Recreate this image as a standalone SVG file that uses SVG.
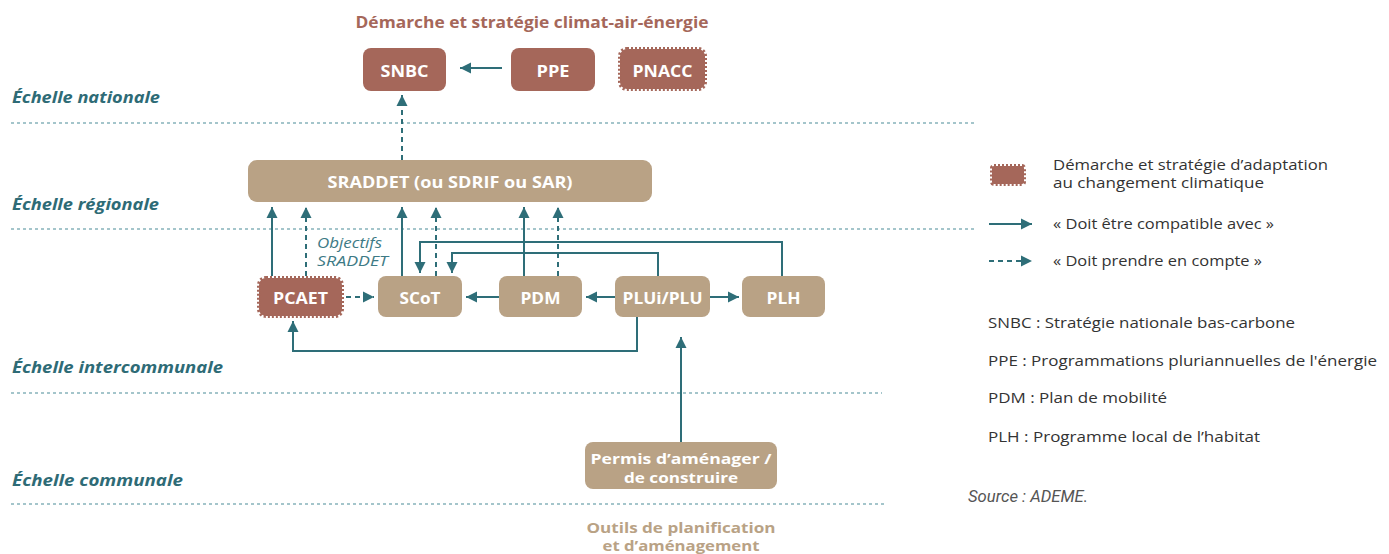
<svg xmlns="http://www.w3.org/2000/svg" width="1389" height="554" viewBox="0 0 1389 554">
<defs>
<style>
.bg{fill:#ffffff}
.scale{font-family:"Open Sans","Liberation Sans",sans-serif;font-weight:700;font-style:italic;font-size:15.5px;fill:#2e6b76}
.sep{stroke:#86b3ba;stroke-width:1.6;stroke-dasharray:3 3;fill:none}
.tan{fill:#b9a285}
.brn{fill:#a5675a}
.stamp{fill:#a5675a;stroke:#a5675a;stroke-width:4;stroke-dasharray:2 2}
.lbl{font-family:"Open Sans","Liberation Sans",sans-serif;font-weight:700;font-size:16.5px;fill:#ffffff;text-anchor:middle}
.c{stroke:#2e6e78;stroke-width:2;fill:none}
.d{stroke:#2e6e78;stroke-width:2;fill:none;stroke-dasharray:5 4}
.leg{font-family:"Open Sans","Liberation Sans",sans-serif;font-size:15px;fill:#333333}
</style>
<marker id="ah" viewBox="0 0 10 10" refX="10" refY="5" markerWidth="11" markerHeight="12" orient="auto" markerUnits="userSpaceOnUse">
<path d="M0,0 L10,5 L0,10 z" fill="#2e6e78"/>
</marker>
</defs>
<rect class="bg" x="0" y="0" width="1389" height="554"/>

<text x="532" y="28" text-anchor="middle" font-family="Open Sans, Liberation Sans, sans-serif" font-weight="700" font-size="16.5" fill="#a5675a" textLength="353" lengthAdjust="spacingAndGlyphs">Démarche et stratégie climat-air-énergie</text>

<g id="scales">
<text class="scale" x="12" y="103" textLength="148" lengthAdjust="spacingAndGlyphs">Échelle nationale</text>
<text class="scale" x="12" y="210" textLength="147" lengthAdjust="spacingAndGlyphs">Échelle régionale</text>
<text class="scale" x="12" y="373" textLength="211" lengthAdjust="spacingAndGlyphs">Échelle intercommunale</text>
<text class="scale" x="12" y="486" textLength="171" lengthAdjust="spacingAndGlyphs">Échelle communale</text>
<line class="sep" x1="11" y1="123" x2="975" y2="123"/>
<line class="sep" x1="11" y1="229" x2="975" y2="229"/>
<line class="sep" x1="11" y1="393" x2="882" y2="393"/>
<line class="sep" x1="11" y1="504" x2="884" y2="504"/>
</g>

<g id="connectors">
<line class="c" x1="502" y1="68" x2="460" y2="68" marker-end="url(#ah)"/>
<line class="d" x1="402" y1="160" x2="402" y2="95" marker-end="url(#ah)"/>
<line class="c" x1="272" y1="276" x2="272" y2="207" marker-end="url(#ah)"/>
<line class="d" x1="306" y1="276" x2="306" y2="207" marker-end="url(#ah)"/>
<line class="c" x1="402" y1="276" x2="402" y2="207" marker-end="url(#ah)"/>
<line class="d" x1="436" y1="276" x2="436" y2="207" marker-end="url(#ah)"/>
<line class="c" x1="524" y1="276" x2="524" y2="207" marker-end="url(#ah)"/>
<line class="d" x1="558" y1="276" x2="558" y2="207" marker-end="url(#ah)"/>
<line class="d" x1="346" y1="297" x2="374" y2="297" marker-end="url(#ah)"/>
<line class="c" x1="499" y1="297" x2="466" y2="297" marker-end="url(#ah)"/>
<line class="c" x1="615" y1="297" x2="586" y2="297" marker-end="url(#ah)"/>
<line class="c" x1="710" y1="297" x2="739" y2="297" marker-end="url(#ah)"/>
<path class="c" d="M782,276 V242 H420 V273" marker-end="url(#ah)"/>
<path class="c" d="M658,276 V253 H452 V273" marker-end="url(#ah)"/>
<path class="c" d="M637,317 V351 H293 V321" marker-end="url(#ah)"/>
<line class="c" x1="681" y1="442" x2="681" y2="337" marker-end="url(#ah)"/>
</g>

<g id="objectifs">
<text x="317" y="248" font-family="Open Sans, Liberation Sans, sans-serif" font-style="italic" font-size="15" fill="#3d7a85" textLength="65" lengthAdjust="spacingAndGlyphs">Objectifs</text>
<text x="317" y="266" font-family="Open Sans, Liberation Sans, sans-serif" font-style="italic" font-size="15" fill="#3d7a85" textLength="71" lengthAdjust="spacingAndGlyphs">SRADDET</text>
</g>

<g id="SNBC"><rect class="brn" x="363" y="48" width="83" height="43" rx="8"/><text class="lbl" x="404.5" y="77" textLength="48" lengthAdjust="spacingAndGlyphs">SNBC</text></g>
<g id="PPE"><rect class="brn" x="511" y="48" width="84" height="43" rx="8"/><text class="lbl" x="553" y="77" textLength="33" lengthAdjust="spacingAndGlyphs">PPE</text></g>
<g id="PNACC"><rect class="stamp" x="620" y="49" width="85" height="40" rx="7"/><text class="lbl" x="662.5" y="77" textLength="60" lengthAdjust="spacingAndGlyphs">PNACC</text></g>
<g id="SRADDET"><rect class="tan" x="248" y="160" width="404" height="42" rx="9"/><text class="lbl" x="450" y="188" textLength="245" lengthAdjust="spacingAndGlyphs">SRADDET (ou SDRIF ou SAR)</text></g>
<g id="PCAET"><rect class="stamp" x="259" y="278" width="83" height="38" rx="7"/><text class="lbl" x="300.5" y="304" textLength="55" lengthAdjust="spacingAndGlyphs">PCAET</text></g>
<g id="SCoT"><rect class="tan" x="378" y="276" width="84" height="41" rx="8"/><text class="lbl" x="420" y="304" textLength="41" lengthAdjust="spacingAndGlyphs">SCoT</text></g>
<g id="PDM"><rect class="tan" x="499" y="276" width="83" height="41" rx="8"/><text class="lbl" x="540.5" y="304" textLength="40" lengthAdjust="spacingAndGlyphs">PDM</text></g>
<g id="PLUi"><rect class="tan" x="615" y="276" width="95" height="41" rx="8"/><text class="lbl" x="662.5" y="304" textLength="80" lengthAdjust="spacingAndGlyphs">PLUi/PLU</text></g>
<g id="PLH"><rect class="tan" x="742" y="276" width="83" height="41" rx="8"/><text class="lbl" x="783.5" y="304" textLength="34" lengthAdjust="spacingAndGlyphs">PLH</text></g>
<g id="Permis"><rect class="tan" x="585" y="442" width="192" height="47" rx="8"/><text class="lbl" x="681" y="464" font-size="15" style="font-size:15px" textLength="181" lengthAdjust="spacingAndGlyphs">Permis d’aménager /</text><text class="lbl" x="681" y="483" style="font-size:15px" textLength="114" lengthAdjust="spacingAndGlyphs">de construire</text></g>

<g id="footer">
<text x="681" y="533" text-anchor="middle" font-family="Open Sans, Liberation Sans, sans-serif" font-weight="700" font-size="15" fill="#b9a285" textLength="189" lengthAdjust="spacingAndGlyphs">Outils de planification</text>
<text x="681" y="551" text-anchor="middle" font-family="Open Sans, Liberation Sans, sans-serif" font-weight="700" font-size="15" fill="#b9a285" textLength="157" lengthAdjust="spacingAndGlyphs">et d’aménagement</text>
</g>

<g id="legend">
<rect class="stamp" x="992" y="166" width="32" height="18" rx="2"/>
<text class="leg" x="1053" y="170" textLength="275" lengthAdjust="spacingAndGlyphs">Démarche et stratégie d’adaptation</text>
<text class="leg" x="1053" y="188" textLength="211" lengthAdjust="spacingAndGlyphs">au changement climatique</text>
<line class="c" x1="989" y1="224" x2="1032" y2="224" marker-end="url(#ah)"/>
<text class="leg" x="1053" y="229" textLength="221" lengthAdjust="spacingAndGlyphs">« Doit être compatible avec »</text>
<line class="d" x1="989" y1="261" x2="1032" y2="261" marker-end="url(#ah)"/>
<text class="leg" x="1053" y="266" textLength="209" lengthAdjust="spacingAndGlyphs">« Doit prendre en compte »</text>
<text class="leg" x="988" y="328" textLength="307" lengthAdjust="spacingAndGlyphs">SNBC : Stratégie nationale bas-carbone</text>
<text class="leg" x="988" y="366" textLength="389" lengthAdjust="spacingAndGlyphs">PPE : Programmations pluriannuelles de l'énergie</text>
<text class="leg" x="988" y="403" textLength="179" lengthAdjust="spacingAndGlyphs">PDM : Plan de mobilité</text>
<text class="leg" x="988" y="442" textLength="272" lengthAdjust="spacingAndGlyphs">PLH : Programme local de l’habitat</text>
<text x="968" y="502" font-family="Roboto, Liberation Sans, sans-serif" font-style="italic" font-size="16.5" fill="#555555" textLength="120" lengthAdjust="spacingAndGlyphs">Source : ADEME.</text>
</g>
</svg>
